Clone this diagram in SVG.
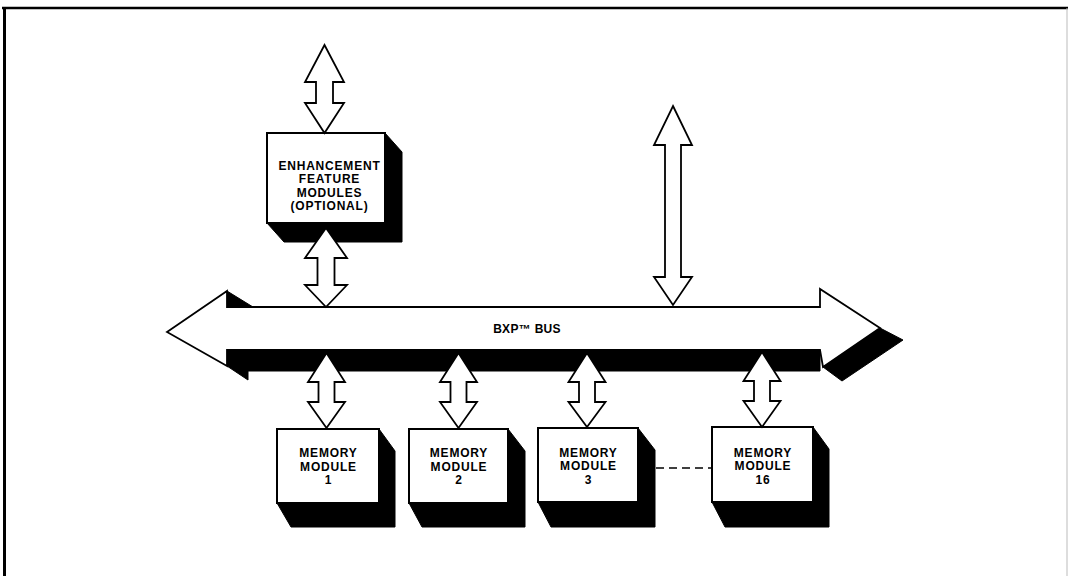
<svg xmlns="http://www.w3.org/2000/svg" width="1068" height="576" viewBox="0 0 1068 576">
<style>
.bg{fill:#fff}
.frame{stroke:#000;fill:none}
.shadow{fill:#000;stroke:#000;stroke-width:1;stroke-linejoin:round}
.box{fill:#fff;stroke:#000;stroke-width:2}
.arrow{fill:#fff;stroke:#000;stroke-width:1.8;stroke-linejoin:miter}
.lbl{font-family:"Liberation Sans",Arial,sans-serif;font-weight:bold;font-size:12px;letter-spacing:0.8px;fill:#000;text-anchor:middle}
.bus{font-size:12px;letter-spacing:0.3px}
.dash{stroke:#000;stroke-width:1.5;stroke-dasharray:8 5;fill:none}
</style>
<rect class="bg" x="0" y="0" width="1068" height="576"/>
<g id="frame">
<line class="frame" x1="2" y1="8" x2="1068" y2="8" stroke-width="2.5"/>
<line class="frame" x1="4.5" y1="7" x2="4.5" y2="576" stroke-width="3"/>
<line x1="1067" y1="8" x2="1067" y2="576" stroke="#bbb" stroke-width="1"/>
</g>

<g id="bxp-bus">
<polygon class="shadow" points="227,291 253,307 227,307"/>
<polygon class="shadow" points="227,350 820,350 820,371 248,371 248,380 227,366"/>
<polygon class="shadow" points="880,328 903,340 842,381 823,367"/>
<polygon class="arrow" points="167,332 227,291 227,307 820,307 820,289 880,328 823,367 820,350 227,350 227,366"/>
<text class="lbl bus" x="527" y="333">BXP™ BUS</text>
</g>

<g id="enhancement">
<polygon class="shadow" points="385,133 402,152 402,242 284,242 267,223"/>
<rect class="box" x="267" y="133" width="118" height="90"/>
<text class="lbl" x="329.5" y="169.5">ENHANCEMENT</text>
<text class="lbl" x="329.5" y="183">FEATURE</text>
<text class="lbl" x="329.5" y="196.5">MODULES</text>
<text class="lbl" x="329.5" y="210">(OPTIONAL)</text>
</g>

<g id="memory1">
<polygon class="shadow" points="379,429 395,451 395,527 291,527 277,503"/>
<rect class="box" x="277" y="429" width="102" height="74"/>
<text class="lbl" x="328.5" y="457.3">MEMORY</text>
<text class="lbl" x="328.5" y="470.8">MODULE</text>
<text class="lbl" x="328.5" y="484.3">1</text>
</g>

<g id="memory2">
<polygon class="shadow" points="508,429 525,451 525,527 422,527 409,503"/>
<rect class="box" x="409" y="429" width="99" height="74"/>
<text class="lbl" x="459" y="457.3">MEMORY</text>
<text class="lbl" x="459" y="470.8">MODULE</text>
<text class="lbl" x="459" y="484.3">2</text>
</g>

<g id="memory3">
<polygon class="shadow" points="638,428 655,450 655,527 551,527 538,502"/>
<rect class="box" x="538" y="428" width="100" height="74"/>
<text class="lbl" x="588.5" y="456.5">MEMORY</text>
<text class="lbl" x="588.5" y="470">MODULE</text>
<text class="lbl" x="588.5" y="483.5">3</text>
</g>

<g id="memory16">
<polygon class="shadow" points="813,427 829,449 829,527 725,527 712,502"/>
<rect class="box" x="712" y="427" width="101" height="75"/>
<text class="lbl" x="763" y="456.5">MEMORY</text>
<text class="lbl" x="763" y="470">MODULE</text>
<text class="lbl" x="763" y="483.5">16</text>
</g>

<g id="connectors">
<polygon class="arrow" points="324.5,45 344,82 333,82 333,103 344,103 324.5,133 305,103 316,103 316,82 305,82"/>
<polygon class="arrow" points="326,228 347,258 334.5,258 334.5,285 347,285 326,307 305,285 317.5,285 317.5,258 305,258"/>
<polygon class="arrow" points="673,106 692,145 681,145 681,277 692,277 673,305 654,277 665,277 665,145 654,145"/>
<polygon class="arrow" points="326.5,353 345,382 334.5,382 334.5,402 345,402 326.5,428 308,402 318.5,402 318.5,382 308,382"/>
<polygon class="arrow" points="458.5,353 477,382 466.5,382 466.5,402 477,402 458.5,428 440,402 450.5,402 450.5,382 440,382"/>
<polygon class="arrow" points="587,353 605.5,382 595,382 595,402 605.5,402 587,427 568.5,402 579,402 579,382 568.5,382"/>
<polygon class="arrow" points="762,352 780.5,381 770,381 770,401 780.5,401 762,427 743.5,401 754,401 754,381 743.5,381"/>
<line class="dash" x1="656" y1="468" x2="712" y2="468"/>
</g>
</svg>
